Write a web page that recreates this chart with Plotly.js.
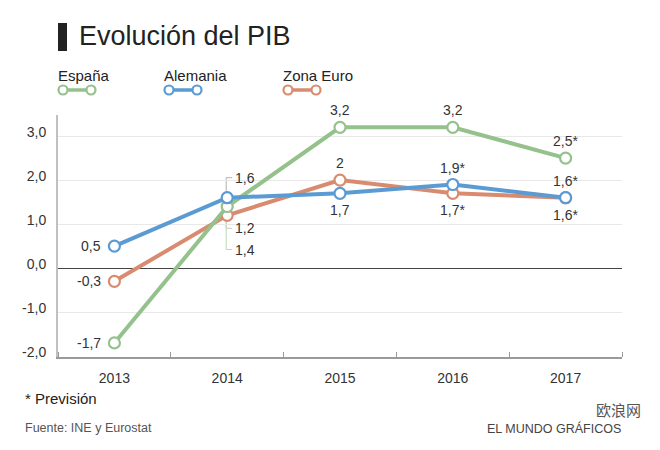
<!DOCTYPE html>
<html>
<head>
<meta charset="utf-8">
<script src="https://cdn.plot.ly/plotly-3.0.1.min.js"></script>
<style>html,body{margin:0;padding:0;background:#fff;}#chart{width:660px;height:450px;}</style>
</head>
<body>
<div id="chart"></div>
<script>
// ---- data ----
const years = [2013, 2014, 2015, 2016, 2017];
const yearLabels = ['2013', '2014', '2015', '2016', '2017'];
const espana = [-1.7, 1.4, 3.2, 3.2, 2.5];
const alemania = [0.5, 1.6, 1.7, 1.9, 1.6];
const zonaEuro = [-0.3, 1.2, 2.0, 1.7, 1.6];
const espanaLabels = ['-1,7', '1,4', '3,2', '3,2', '2,5*'];
const alemaniaLabels = ['0,5', '1,6', '1,7', '1,9*', '1,6*'];
const zonaLabels = ['-0,3', '1,2', '2', '1,7*', '1,6*'];
const yTickVals = [-2, -1, 0, 1, 2, 3];
const yTickText = ['-2,0', '-1,0', '0,0', '1,0', '2,0', '3,0'];
const seriesNames = ['España', 'Alemania', 'Zona Euro'];

// ---- layout helpers ----
const W = 660, H = 450, L = 58, R = 38, T = 115, B = 93;
const PW = W - L - R, PH = H - T - B;
const px = x => (x - L) / PW;
const py = y => (H - B - y) / PH;
const FONT = 'Liberation Sans, Arial, Helvetica, sans-serif';

const series = [
  {name: seriesNames[2], vals: zonaEuro, labels: zonaLabels, color: '#d98b70', leaderColor: '#c8c8c8',
   pos: ['left', 'leader', 'above', 'below', 'below'], leader: -13, legendX: 281},
  {name: seriesNames[0], vals: espana, labels: espanaLabels, color: '#95c18c', leaderColor: '#b9d8b2',
   pos: ['left', 'leader', 'above', 'above', 'above'], leader: -43, legendX: 56},
  {name: seriesNames[1], vals: alemania, labels: alemaniaLabels, color: '#5b9bd3', leaderColor: '#b0b0b0',
   pos: ['left', 'leader', 'below', 'above', 'above'], leader: 20, legendX: 162}
];

const traces = series.map(s => ({
  x: years, y: s.vals, type: 'scatter', mode: 'lines+markers', name: s.name,
  line: {color: s.color, width: 4},
  marker: {symbol: 'circle', size: 11, color: '#ffffff', line: {color: s.color, width: 2.2}},
  hoverinfo: 'skip', showlegend: false, cliponaxis: false
}));

const annotations = [];
const shapes = [];

series.forEach(s => {
  s.vals.forEach((v, i) => {
    const a = {x: years[i], y: v, xref: 'x', yref: 'y', text: s.labels[i], showarrow: false,
      font: {family: FONT, size: 14, color: '#333'}, yanchor: 'middle'};
    const p = s.pos[i];
    if (p === 'left') { a.xanchor = 'right'; a.xshift = -11; }
    else if (p === 'above') { a.xanchor = 'center'; a.yshift = 17; }
    else if (p === 'below') { a.xanchor = 'center'; a.yshift = -17; }
    else if (p === 'leader') {
      a.xanchor = 'left'; a.xshift = 6; a.yshift = s.leader;
      shapes.push({type: 'path', xref: 'x', yref: 'y', xsizemode: 'pixel', ysizemode: 'pixel',
        xanchor: years[i], yanchor: v, layer: 'below',
        path: 'M-1,0 L-1,' + s.leader + ' L5,' + s.leader,
        line: {color: s.leaderColor, width: 1}});
    }
    annotations.push(a);
  });
});

// custom legend (text above, sample below)
series.forEach(s => {
  annotations.push({xref: 'paper', yref: 'paper', x: px(s.legendX), y: py(75), xanchor: 'left', yanchor: 'middle',
    text: s.name, showarrow: false, font: {family: FONT, size: 15, color: '#222'}});
  const c1 = s.legendX + 7, c2 = s.legendX + 35, cy = 90, r = 4.5;
  shapes.push({type: 'line', xref: 'paper', yref: 'paper', x0: px(c1), x1: px(c2), y0: py(cy), y1: py(cy),
    line: {color: s.color, width: 3.5}});
  [c1, c2].forEach(c => shapes.push({type: 'circle', xref: 'paper', yref: 'paper',
    x0: px(c - r), x1: px(c + r), y0: py(cy - r), y1: py(cy + r),
    fillcolor: '#ffffff', line: {color: s.color, width: 2.2}}));
});

// title
shapes.push({type: 'rect', xref: 'paper', yref: 'paper', x0: px(58), x1: px(67), y0: py(23), y1: py(51),
  fillcolor: '#222', line: {width: 0}});
annotations.push({xref: 'paper', yref: 'paper', x: px(77), y: py(36), xanchor: 'left', yanchor: 'middle',
  text: 'Evolución del PIB', showarrow: false, font: {family: FONT, size: 27, color: '#222'}});

// footer
annotations.push({xref: 'paper', yref: 'paper', x: px(23), y: py(398), xanchor: 'left', yanchor: 'middle',
  text: '* Previsión', showarrow: false, font: {family: FONT, size: 15, color: '#222'}});
annotations.push({xref: 'paper', yref: 'paper', x: px(23), y: py(428), xanchor: 'left', yanchor: 'middle',
  text: 'Fuente: INE y Eurostat', showarrow: false, font: {family: FONT, size: 12.5, color: '#555'}});
annotations.push({xref: 'paper', yref: 'paper', x: px(623), y: py(428), xanchor: 'right', yanchor: 'middle',
  text: 'EL MUNDO GRÁFICOS', showarrow: false, font: {family: FONT, size: 12.5, color: '#444'}});
annotations.push({xref: 'paper', yref: 'paper', x: px(618), y: py(409), xanchor: 'center', yanchor: 'middle',
  text: '欧浪网', showarrow: false, font: {family: 'Noto Sans CJK SC, sans-serif', size: 15, color: '#555'}});

const layout = {
  width: W, height: H,
  margin: {l: L, r: R, t: T, b: B},
  paper_bgcolor: '#ffffff', plot_bgcolor: '#ffffff',
  font: {family: FONT, size: 14, color: '#333'},
  showlegend: false,
  xaxis: {
    range: [2012.5, 2017.5], tickvals: years, ticktext: yearLabels, ticks: '',
    showgrid: false, zeroline: false, showline: true, linecolor: '#9a9a9a', linewidth: 1.5,
    tickfont: {family: FONT, size: 14, color: '#333'}, ticklabelstandoff: 8,
    minor: {tick0: 2012.5, dtick: 1, ticks: 'inside', ticklen: 5, tickcolor: '#9a9a9a', tickwidth: 1, showgrid: false},
    fixedrange: true
  },
  yaxis: {
    range: [-2.02, 3.48], tickvals: yTickVals, ticktext: yTickText, ticks: '',
    showgrid: true, gridcolor: '#e8e8e8', gridwidth: 1,
    zeroline: true, zerolinecolor: '#444', zerolinewidth: 1,
    showline: true, linecolor: '#c0c0c0', linewidth: 2,
    tickfont: {family: FONT, size: 14, color: '#333'}, ticklabelstandoff: 7, ticklabelshift: -4,
    fixedrange: true
  },
  annotations: annotations,
  shapes: shapes
};

Plotly.newPlot('chart', traces, layout, {staticPlot: true, displayModeBar: false});
</script>
</body>
</html>
